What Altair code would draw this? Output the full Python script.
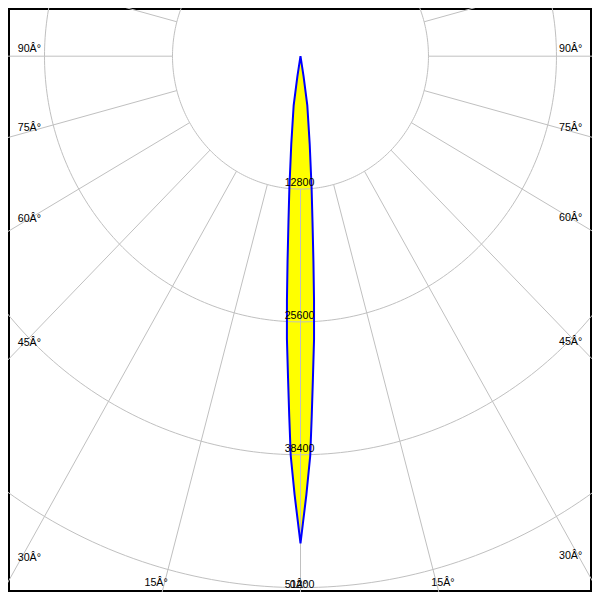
import altair as alt
import numpy as np
import pandas as pd

# ---- data ----
angle_deg = [0, 0.3, 0.8, 1.45, 1.85, 2.3, 2.85, 3.3, 3.75, 4.3, 5.0, 6.2, 8.2, 9.0, 11.0]
intensity_cd = [46940, 45060, 42250, 38510, 34760, 31020, 27280, 23530, 19780, 16030, 12750, 8540, 4780, 2000, 0]

ring_values = [12800, 25600, 38400, 51200]
ring_labels = ["12800", "25600", "38400", "51200"]
spoke_angles = list(range(-165, 181, 15))
side_label_angles = [90, 75, 60, 45, 30]
bottom_label_angles = [15]

# ---- geometry (reference pixels per cd, centre of the diagram) ----
PX_X = 131.5 / 12800.0
PX_Y = 136.5 / 12800.0
CX, CY = 300.5, 49.5
REF = 600.0
W = H = 584
K = W / REF
X_DOM = [(0 - CX) / PX_X, (REF - CX) / PX_X]
Y_DOM = [(0 - CY) / PX_Y, (REF - CY) / PX_Y]

xs = alt.Scale(domain=X_DOM, nice=False, zero=False)
ys = alt.Scale(domain=Y_DOM, nice=False, zero=False, reverse=True)
FONT = "Liberation Sans"
FS = 11 * K

# beam: both sides
beam = pd.DataFrame({"ang": angle_deg, "cd": intensity_cd})
beam_both = pd.concat([beam.assign(s=-1), beam.assign(s=1)], ignore_index=True)

area = alt.Chart(beam).transform_calculate(
    xr="datum.cd*sin(datum.ang*PI/180)",
    xl="-datum.cd*sin(datum.ang*PI/180)",
    y="datum.cd*cos(datum.ang*PI/180)",
).mark_area(orient="horizontal", color="#ffff00", clip=True).encode(
    y=alt.Y("y:Q", scale=ys, axis=None),
    x=alt.X("xl:Q", scale=xs, axis=None),
    x2="xr:Q",
)

outline = alt.Chart(beam_both).transform_calculate(
    x="datum.s*datum.cd*sin(datum.ang*PI/180)",
    y="datum.cd*cos(datum.ang*PI/180)",
    o="datum.s*(20-datum.ang)",
).mark_line(color="#0000ff", strokeWidth=2, clip=True).encode(
    x=alt.X("x:Q", scale=xs, axis=None),
    y=alt.Y("y:Q", scale=ys, axis=None),
    order="o:Q",
)

# rings
t = np.arange(0, 361, 1)
rings = pd.DataFrame([{"r": r, "t": tt} for r in ring_values for tt in t])
ring_layer = alt.Chart(rings).transform_calculate(
    x="datum.r*sin(datum.t*PI/180)",
    y="datum.r*cos(datum.t*PI/180)",
).mark_line(color="#c0c0c0", strokeWidth=1, clip=True).encode(
    x=alt.X("x:Q", scale=xs, axis=None),
    y=alt.Y("y:Q", scale=ys, axis=None),
    detail="r:N",
    order="t:Q",
)

spokes = pd.DataFrame([{"a": a, "r": r} for a in spoke_angles for r in (ring_values[0], 120000)])
spoke_layer = alt.Chart(spokes).transform_calculate(
    x="datum.r*sin(datum.a*PI/180)",
    y="datum.r*cos(datum.a*PI/180)",
).mark_line(color="#c0c0c0", strokeWidth=1, clip=True).encode(
    x=alt.X("x:Q", scale=xs, axis=None),
    y=alt.Y("y:Q", scale=ys, axis=None),
    detail="a:N",
    order="r:Q",
)

ring_df = pd.DataFrame({"r": ring_values, "label": ring_labels})
ring_text = alt.Chart(ring_df.iloc[:-1]).transform_calculate(
    zero="0"
).mark_text(
    font=FONT, fontSize=FS, color="black", baseline="alphabetic", align="center", dy=-3 * K, dx=-1
).encode(
    x=alt.X("zero:Q", scale=xs, axis=None),
    y=alt.Y("r:Q", scale=ys, axis=None),
    text="label:N",
)
# the outermost ring label sits on the frame edge
ring_text_last = alt.Chart(ring_df.iloc[-1:]).transform_calculate(
    zero="0"
).mark_text(
    font=FONT, fontSize=FS, color="black", baseline="alphabetic", align="center", dy=0.5 * K, dx=-1
).encode(
    x=alt.X("zero:Q", scale=xs, axis=None),
    y=alt.Y("r:Q", scale=ys, axis=None),
    text="label:N",
)

# side labels, anchored where each spoke meets a line 10px inside the frame
x_left = (10 - CX) / PX_X
x_right = (590 - CX) / PX_X
side = pd.DataFrame({"a": side_label_angles})
side["label"] = [f"{a}Â°" for a in side_label_angles]

left_text = alt.Chart(side).transform_calculate(
    x=f"{x_left}",
    y=f"{-x_left}*cos(datum.a*PI/180)/sin(datum.a*PI/180)",
).mark_text(font=FONT, fontSize=FS, color="black", align="left", baseline="alphabetic", dy=-4 * K).encode(
    x=alt.X("x:Q", scale=xs, axis=None), y=alt.Y("y:Q", scale=ys, axis=None), text="label:N"
)
right_text = alt.Chart(side).transform_calculate(
    x=f"{x_right}",
    y=f"{x_right}*cos(datum.a*PI/180)/sin(datum.a*PI/180)",
).mark_text(font=FONT, fontSize=FS, color="black", align="right", baseline="alphabetic", dy=-4 * K).encode(
    x=alt.X("x:Q", scale=xs, axis=None), y=alt.Y("y:Q", scale=ys, axis=None), text="label:N"
)

# bottom labels
y_bot = (597 - CY) / PX_Y
bot = pd.DataFrame({"a": bottom_label_angles})
bot["label"] = [f"{a}Â°" for a in bottom_label_angles]
bot_left = alt.Chart(bot).transform_calculate(
    x=f"-{y_bot}*tan(datum.a*PI/180)", y=f"{y_bot}"
).mark_text(font=FONT, fontSize=FS, color="black", align="center", baseline="alphabetic", dx=-7 * K, dy=-3.5 * K).encode(
    x=alt.X("x:Q", scale=xs, axis=None), y=alt.Y("y:Q", scale=ys, axis=None), text="label:N"
)
bot_right = alt.Chart(bot).transform_calculate(
    x=f"{y_bot}*tan(datum.a*PI/180)", y=f"{y_bot}"
).mark_text(font=FONT, fontSize=FS, color="black", align="center", baseline="alphabetic", dx=5 * K, dy=-3.5 * K).encode(
    x=alt.X("x:Q", scale=xs, axis=None), y=alt.Y("y:Q", scale=ys, axis=None), text="label:N"
)
zero_text = alt.Chart(pd.DataFrame({"label": ["0Â°"]})).transform_calculate(
    x="0", y=f"{y_bot}"
).mark_text(font=FONT, fontSize=FS, color="black", align="center", baseline="alphabetic", dx=-2, dy=-1.5).encode(
    x=alt.X("x:Q", scale=xs, axis=None), y=alt.Y("y:Q", scale=ys, axis=None), text="label:N"
)

chart = alt.layer(
    area, ring_layer, spoke_layer, outline, ring_text, ring_text_last,
    left_text, right_text, bot_left, bot_right, zero_text
).properties(width=W, height=H, padding=0, background="white").configure_view(
    stroke="black", strokeWidth=4
)

chart.save("out.html", embed_options={"renderer": "svg", "actions": False})
